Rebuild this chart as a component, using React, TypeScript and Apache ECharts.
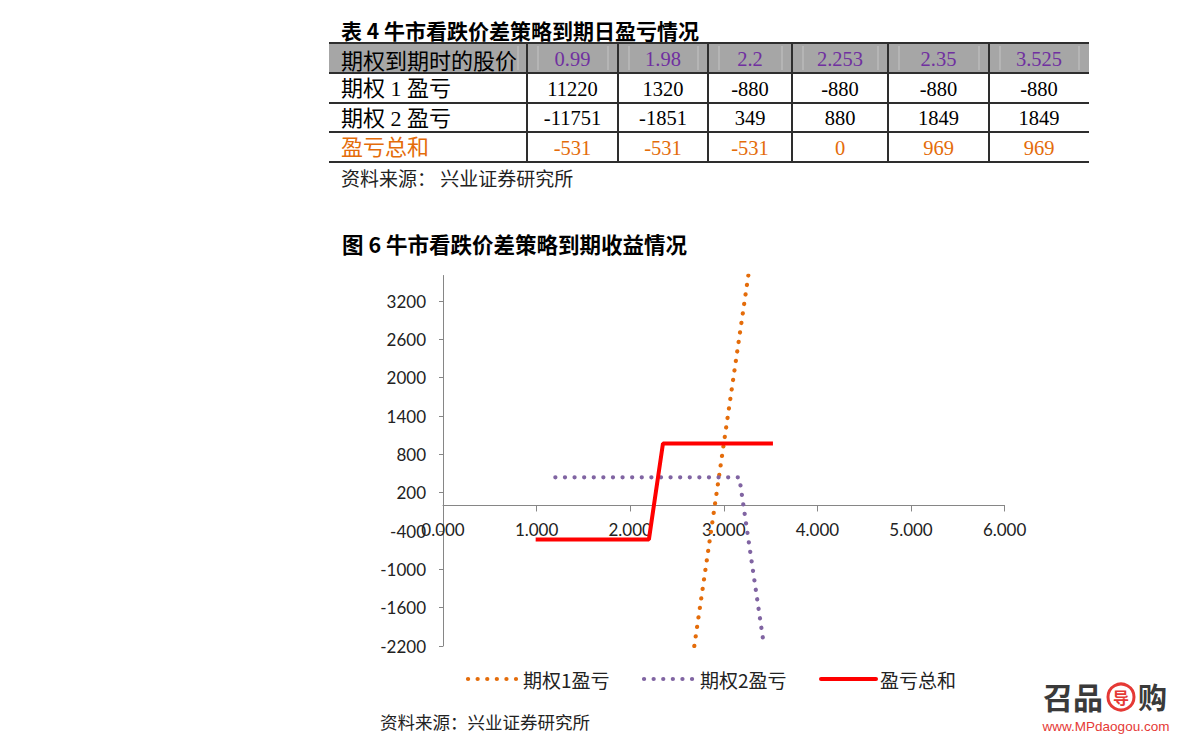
import React, { useEffect, useRef } from "react";
import * as echarts from "echarts";

// ---- table data ----
const prices = [0.99, 1.98, 2.2, 2.253, 2.35, 3.525];
const option1PL = [11220, 1320, -880, -880, -880, -880];
const option2PL = [-11751, -1851, 349, 880, 1849, 1849];
const totalPL = [-531, -531, -531, 0, 969, 969];
const headerLabel = "期权到期时的股价";
const rowLabels = ["期权 1 盈亏", "期权 2 盈亏", "盈亏总和"];

// ---- chart curves ----
const opt1CurveX = [2.685, 3.262];
const opt1CurveY = [-2200, 3600];
const opt2CurveX = [1.2, 3.166, 3.43];
const opt2CurveY = [440, 440, -2200];
const seriesNames = ["期权1盈亏", "期权2盈亏", "盈亏总和"];

const yTicks = [-2200, -1600, -1000, -400, 200, 800, 1400, 2000, 2600, 3200];
const xTicks = [0, 1, 2, 3, 4, 5, 6];
const Y_MIN = -2200;
const Y_MAX = 3600;

const tableTitle = "表 4 牛市看跌价差策略到期日盈亏情况";
const chartTitle = "图 6 牛市看跌价差策略到期收益情况";
const sourceText1 = "资料来源： 兴业证券研究所";
const sourceText2 = "资料来源：兴业证券研究所";

// ---- layout / styles ----
const colX = [329, 527, 618, 708, 792, 888, 989, 1089];
const rowY = [43, 73, 103, 132, 162];
const PURPLE = "#7030A0";
const ORANGE = "#E46C0A";
const LINE_PURPLE = "#8064A2";
const RED = "#FF0000";
const CJK = "'Noto Sans CJK SC', sans-serif";
const SERIF_CJK = "'Liberation Serif', 'Noto Sans CJK SC', serif";
const SERIF = "'Liberation Serif', 'Times New Roman', serif";
const GRID = { left: 443, top: 275.5, right: 186.4, bottom: 107 };
const PLOT_H = 753 - GRID.top - GRID.bottom;
const DOT = [0.1, 9.5];
const DOT_W = 4.2;

function pairs(xs: number[], ys: number[]) {
  return xs.map((x, i) => [x, ys[i]]);
}

function buildTable(): any[] {
  const els: any[] = [];
  els.push({
    type: "rect",
    silent: true,
    shape: { x: colX[0], y: rowY[0], width: colX[colX.length - 1] - colX[0], height: rowY[1] - rowY[0] },
    style: { fill: "#A6A6A6" },
  });
  const faint = (x: number) =>
    els.push({
      type: "line",
      silent: true,
      shape: { x1: x, y1: rowY[0] + 3, x2: x, y2: rowY[1] - 3 },
      style: { stroke: "#C4C4C4", lineWidth: 1 },
    });
  for (let c = 1; c < colX.length - 1; c++) {
    faint(colX[c] + 11);
    faint(colX[c + 1] - 10);
  }
  faint(colX[1] - 9);
  rowY.forEach((y) =>
    els.push({
      type: "line",
      silent: true,
      shape: { x1: colX[0], y1: y, x2: colX[colX.length - 1], y2: y },
      style: { stroke: "#2E2E2E", lineWidth: 2 },
    })
  );
  for (let c = 1; c < colX.length - 1; c++) {
    els.push({
      type: "line",
      silent: true,
      shape: { x1: colX[c], y1: rowY[0], x2: colX[c], y2: rowY[rowY.length - 1] },
      style: { stroke: "#2E2E2E", lineWidth: 2 },
    });
  }
  const rowMid = (r: number) => (rowY[r] + rowY[r + 1]) / 2 + 0.5;
  els.push({
    type: "text",
    silent: true,
    x: 341,
    y: rowMid(0),
    style: { text: headerLabel, font: `22px ${CJK}`, fill: "#000", textAlign: "left", textVerticalAlign: "middle" },
  });
  const rows = [option1PL, option2PL, totalPL];
  const rowColors = ["#000", "#000", ORANGE];
  rowLabels.forEach((lab, i) =>
    els.push({
      type: "text",
      silent: true,
      x: 341,
      y: rowMid(i + 1),
      style: { text: lab, font: `22px ${SERIF_CJK}`, fill: rowColors[i], textAlign: "left", textVerticalAlign: "middle" },
    })
  );
  prices.forEach((p, j) => {
    const cx = (colX[j + 1] + colX[j + 2]) / 2;
    els.push({
      type: "text",
      silent: true,
      x: cx,
      y: rowMid(0),
      style: { text: String(p), font: `20.5px ${SERIF}`, fill: PURPLE, textAlign: "center", textVerticalAlign: "middle" },
    });
    rows.forEach((row, i) =>
      els.push({
        type: "text",
        silent: true,
        x: cx,
        y: rowMid(i + 1),
        style: { text: String(row[j]), font: `20.5px ${SERIF}`, fill: rowColors[i], textAlign: "center", textVerticalAlign: "middle" },
      })
    );
  });
  return els;
}

function buildLegend(): any[] {
  const y = 679;
  const items = [
    { x0: 468, x1: 516, tx: 523, color: ORANGE, dash: DOT, width: DOT_W },
    { x0: 644, x1: 693, tx: 700, color: LINE_PURPLE, dash: DOT, width: DOT_W },
    { x0: 821, x1: 876, tx: 880, color: RED, dash: null, width: 4 },
  ];
  const els: any[] = [];
  items.forEach((it, i) => {
    const style: any = { stroke: it.color, lineWidth: it.width, lineCap: "round" };
    if (it.dash) style.lineDash = it.dash;
    els.push({ type: "line", silent: true, shape: { x1: it.x0, y1: y, x2: it.x1, y2: y }, style });
    els.push({
      type: "text",
      silent: true,
      x: it.tx,
      y: y,
      style: { text: seriesNames[i], font: `19px ${CJK}`, fill: "#222", textAlign: "left", textVerticalAlign: "middle" },
    });
  });
  return els;
}

function buildTexts(): any[] {
  const t = (x: number, y: number, text: string, font: string, fill: string, align = "left") => ({
    type: "text",
    silent: true,
    x,
    y,
    style: { text, font, fill, textAlign: align, textVerticalAlign: "middle" },
  });
  return [
    t(341, 29.5, tableTitle, `bold 21px ${CJK}`, "#000"),
    t(341, 177, sourceText1, `19px ${CJK}`, "#222"),
    t(342, 243, chartTitle, `bold 21.5px ${CJK}`, "#000"),
    t(380, 721, sourceText2, `17.5px ${CJK}`, "#222"),
    t(1043, 696, "召品", `bold 30px ${CJK}`, "#3A3A3A"),
    {
      type: "circle",
      silent: true,
      shape: { cx: 1121, cy: 697, r: 13 },
      style: { fill: "none", stroke: "#E53935", lineWidth: 3 },
    },
    t(1121, 697, "导", `bold 16px ${CJK}`, "#E53935", "center"),
    t(1138, 696, "购", `bold 29px ${CJK}`, "#3A3A3A"),
    t(1106, 726, "www.MPdaogou.com", `13.5px 'Liberation Sans', Arial, sans-serif`, "#E53935", "center"),
  ];
}

export default function App() {
  const ref = useRef<HTMLDivElement>(null);
  useEffect(() => {
    const chart = echarts.init(ref.current!, null, { renderer: "svg" });
    const axisFont = "Lato, 'Noto Sans', sans-serif";
    const zeroOffset = (-Y_MIN / (Y_MAX - Y_MIN)) * PLOT_H;
    const option: any = {
      animation: false,
      backgroundColor: "#fff",
      grid: GRID,
      xAxis: {
        type: "value",
        min: 0,
        max: 6,
        position: "bottom",
        offset: -zeroOffset,
        axisLine: { show: true, onZero: false, lineStyle: { color: "#868686", width: 1 } },
        axisTick: { show: true, length: 6, lineStyle: { color: "#868686" }, customValues: xTicks },
        axisLabel: {
          customValues: xTicks,
          formatter: (v: number) => v.toFixed(3),
          fontSize: 17,
          color: "#222",
          fontFamily: axisFont,
          margin: 16,
        },
        splitLine: { show: false },
      },
      yAxis: {
        type: "value",
        min: Y_MIN,
        max: Y_MAX,
        axisLine: { show: true, onZero: false, lineStyle: { color: "#868686", width: 1 } },
        axisTick: { show: true, length: 4, lineStyle: { color: "#868686" }, customValues: yTicks },
        axisLabel: {
          customValues: yTicks,
          formatter: (v: number) => String(v),
          fontSize: 17,
          color: "#222",
          fontFamily: axisFont,
          margin: 17,
        },
        splitLine: { show: false },
      },
      series: [
        {
          name: seriesNames[0],
          type: "line",
          data: pairs(opt1CurveX, opt1CurveY),
          symbol: "none",
          clip: true,
          color: ORANGE,
          lineStyle: { color: ORANGE, width: DOT_W, type: DOT, cap: "round" },
        },
        {
          name: seriesNames[1],
          type: "line",
          data: pairs(opt2CurveX, opt2CurveY),
          symbol: "none",
          clip: true,
          color: LINE_PURPLE,
          lineStyle: { color: LINE_PURPLE, width: DOT_W, type: DOT, cap: "round" },
        },
        {
          name: seriesNames[2],
          type: "line",
          data: pairs(prices, totalPL),
          symbol: "none",
          clip: true,
          color: RED,
          lineStyle: { color: RED, width: 4 },
        },
      ],
      graphic: { elements: [...buildTable(), ...buildTexts(), ...buildLegend()] },
    };
    chart.setOption(option);
    return () => chart.dispose();
  }, []);
  return (
    <div
      ref={ref}
      style={{ position: "fixed", left: 0, top: 0, width: 1191, height: 753, background: "#fff" }}
    />
  );
}
